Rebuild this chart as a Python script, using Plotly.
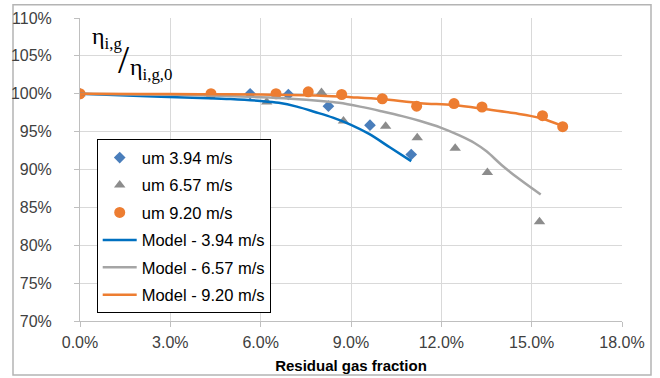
import plotly.graph_objects as go

# ---- data (x: residual gas fraction in %, y: efficiency ratio in %) ----
x_um394 = [0.0, 5.65, 6.92, 8.25, 9.63, 11.0]
y_um394 = [100.0, 100.0, 99.9, 98.36, 95.85, 91.98]

x_um657 = [0.0, 4.3, 6.2, 8.02, 8.75, 10.15, 11.2, 12.46, 13.53, 15.26]
y_um657 = [100.0, 100.0, 98.9, 100.15, 96.4, 95.7, 94.2, 92.8, 89.6, 83.1]

x_um920 = [0.0, 4.35, 6.51, 7.58, 8.69, 10.04, 11.18, 12.42, 13.35, 15.36, 16.03]
y_um920 = [100.0, 100.0, 100.0, 100.26, 99.9, 99.34, 98.36, 98.7, 98.25, 97.1, 95.65]

x_mod394 = [0, 2, 4, 5, 6, 6.6, 7.2, 7.8, 8.4, 9.0, 9.6, 10.3, 11.0]
y_mod394 = [100, 99.7, 99.45, 99.3, 99.05, 98.8, 98.3, 97.6, 96.85, 95.9, 94.7, 92.9, 91.1]

x_mod657 = [0, 2, 4, 6, 7, 8, 8.6, 9.3, 10, 10.7, 11.3, 12, 12.6, 13.1, 13.5, 14.0, 14.6, 15.3]
y_mod657 = [100, 99.9, 99.8, 99.55, 99.35, 99.05, 98.8, 98.3, 97.7, 97.05, 96.4, 95.5, 94.5, 93.5, 92.4, 90.6, 88.7, 86.7]

x_mod920 = [0, 2, 4, 6, 8, 9, 10, 11.3, 12.4, 13.5, 14.4, 15.28, 16.05]
y_mod920 = [100, 99.98, 99.95, 99.9, 99.75, 99.55, 99.3, 98.75, 98.5, 97.95, 97.45, 96.8, 95.7]

names = ["um 3.94 m/s", "um 6.57 m/s", "um 9.20 m/s",
         "Model - 3.94 m/s", "Model - 6.57 m/s", "Model - 9.20 m/s"]

x_ticks = [0, 3, 6, 9, 12, 15, 18]
y_ticks = [70, 75, 80, 85, 90, 95, 100, 105, 110]

# ---- layout helpers (pixel -> paper) ----
W, H = 660, 378
L, R, T, B = 80, 622, 18.3, 321
def px(p):
    return (p - L) / (R - L)
def py(p):
    return (B - p) / (B - T)

FONT = "Liberation Sans"
fig = go.Figure()

fig.add_trace(go.Scatter(x=x_um394, y=y_um394, mode="markers", name=names[0], legendgroup="a",
                         marker=dict(symbol="diamond", size=9, color="#4a7ebb")))
fig.add_trace(go.Scatter(x=x_um657, y=y_um657, mode="markers", name=names[1], legendgroup="b",
                         marker=dict(symbol="triangle-up", size=10, color="#8c8c8c")))
fig.add_trace(go.Scatter(x=x_um920, y=y_um920, mode="markers", name=names[2], legendgroup="c",
                         marker=dict(symbol="circle", size=11, color="#ed7d31")))
fig.add_trace(go.Scatter(x=x_mod394, y=y_mod394, mode="lines", name=names[3], legendgroup="d",
                         line=dict(color="#0070c0", width=2.5, shape="spline")))
fig.add_trace(go.Scatter(x=x_mod657, y=y_mod657, mode="lines", name=names[4], legendgroup="e",
                         line=dict(color="#a5a5a5", width=2.5, shape="spline")))
fig.add_trace(go.Scatter(x=x_mod920, y=y_mod920, mode="lines", name=names[5], legendgroup="f",
                         line=dict(color="#ed7d31", width=2.5, shape="spline")))

fig.update_layout(
    width=W, height=H,
    margin=dict(l=L, r=W - R, t=T, b=H - B, autoexpand=False),
    paper_bgcolor="white", plot_bgcolor="white",
    font=dict(family=FONT, size=16, color="#404040"),
    xaxis=dict(range=[0, 18], tickvals=x_ticks, ticktext=[f"{v:.1f}%" for v in x_ticks],
               showgrid=True, gridcolor="#d9d9d9", gridwidth=1,
               showline=True, linecolor="#bfbfbf", linewidth=1,
               ticks="outside", ticklen=5, tickcolor="#bfbfbf",
               ticklabelstandoff=2, automargin=False,
               zeroline=False, tickfont=dict(size=16, color="#404040"),
               title=dict(text="<b>Residual gas fraction</b>", font=dict(size=15, color="#000000"),
                          standoff=10)),
    yaxis=dict(range=[70, 110], tickvals=y_ticks, ticktext=[f"{v}%" for v in y_ticks],
               showgrid=True, gridcolor="#d9d9d9", gridwidth=1,
               showline=True, linecolor="#bfbfbf", linewidth=1,
               ticks="outside", ticklen=5, tickcolor="#bfbfbf",
               ticklabelstandoff=19, automargin=False,
               zeroline=False, tickfont=dict(size=16, color="#404040")),
    legend=dict(x=px(96.7), y=py(139.5), xanchor="left", yanchor="top",
                bgcolor="white", bordercolor="#000000", borderwidth=1,
                font=dict(size=16.5, color="#000000"),
                itemwidth=34,
                traceorder="grouped", tracegroupgap=3),
    showlegend=True,
)

# outer chart border
fig.add_shape(type="rect", xref="paper", yref="paper",
              x0=px(13), x1=px(651), y0=py(375), y1=py(5),
              line=dict(color="#b4b4b4", width=1.5), layer="below")

# y-label annotation (eta ratio)
SERIF = "Liberation Serif"
fig.add_annotation(xref="paper", yref="paper", x=px(90), y=py(38), xanchor="left", yanchor="middle",
                   text="η<sub>i,g</sub>", showarrow=False,
                   font=dict(family=SERIF, size=24, color="#000000"))
fig.add_annotation(xref="paper", yref="paper", x=px(124), y=py(60), xanchor="center", yanchor="middle",
                   text="/", showarrow=False,
                   font=dict(family=SERIF, size=40, color="#000000"))
fig.add_annotation(xref="paper", yref="paper", x=px(128), y=py(69), xanchor="left", yanchor="middle",
                   text="η<sub>i,g,0</sub>", showarrow=False,
                   font=dict(family=SERIF, size=24, color="#000000"))

fig.write_html("out.html")
